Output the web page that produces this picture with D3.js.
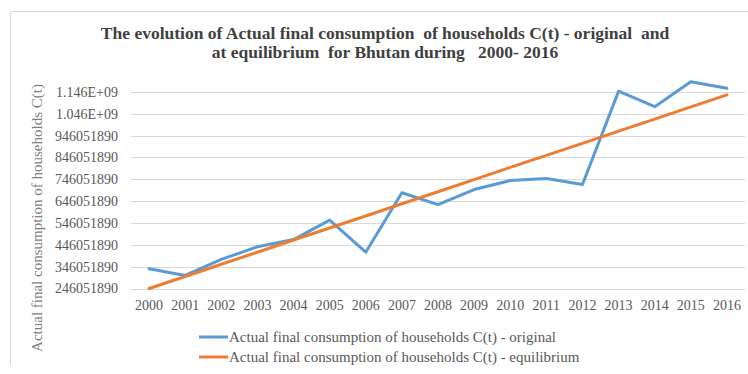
<!DOCTYPE html>
<html>
<head>
<meta charset="utf-8">
<script src="https://cdn.jsdelivr.net/npm/d3@7"></script>
<style>
  body { margin: 0; background: #fff; }
  svg { display: block; font-family: "Liberation Serif", "Times New Roman", serif; }
</style>
</head>
<body>
<svg id="chart"></svg>
<script>
/* data */
var years = ["2000","2001","2002","2003","2004","2005","2006","2007","2008",
             "2009","2010","2011","2012","2013","2014","2015","2016"];
var original = [336e6, 306e6, 379e6, 437e6, 470e6, 559e6, 412e6, 684e6, 630e6,
                699e6, 740e6, 749e6, 722e6, 1149e6, 1078e6, 1192e6, 1162e6];
var equilibrium = [246e6, 301e6, 357e6, 412e6, 468e6, 523e6, 578e6, 634e6, 689e6,
                   744e6, 800e6, 855e6, 910e6, 966e6, 1021e6, 1077e6, 1132e6];
var yTicks = [246051890, 346051890, 446051890, 546051890, 646051890,
              746051890, 846051890, 946051890, 1046051890, 1146051890];
var seriesNames = ["Actual final consumption of households C(t) - original",
                   "Actual final consumption of households C(t) - equilibrium"];
var titleLines = ["The evolution of Actual final consumption  of households C(t) - original  and",
                  "at equilibrium  for Bhutan during   2000- 2016"];
var yTitle = "Actual final consumption of households C(t)";

var width = 748, height = 374;
var colours = ["#5B9BD5", "#ED7D31"];

var svg = d3.select("#chart")
    .attr("width", width)
    .attr("height", height);

// chart frame (only top/left are visible in the crop)
svg.append("path")
    .attr("d", "M10.5,365 V11.5 H748")
    .attr("fill", "none")
    .attr("stroke", "#d9d9d9");

/* title */
svg.append("g").selectAll("text")
    .data(titleLines)
    .enter().append("text")
      .attr("x", 385)
      .attr("y", function(d, i){ return 39 + i*19; })
      .attr("text-anchor", "middle")
      .style("white-space", "pre")
      .attr("font-size", "17.5px")
      .attr("font-weight", "bold")
      .attr("fill", "#404040")
      .text(function(d){ return d; });

/* scales */
var xScale = d3.scaleBand()
    .domain(years)
    .range([131, 745])
    .padding(0);

var yScale = d3.scaleLinear()
    .domain([246051890, 1196051890])
    .range([288.5, 80.9]);

function xc(i){ return xScale(years[i]) + xScale.bandwidth()/2; }

/* gridlines */
svg.append("g").selectAll("line")
    .data(yTicks)
    .enter().append("line")
      .attr("x1", 131).attr("x2", 745)
      .attr("y1", function(d){ return Math.round(yScale(d)) + 0.5; })
      .attr("y2", function(d){ return Math.round(yScale(d)) + 0.5; })
      .attr("stroke", "#d9d9d9")
      .attr("stroke-width", 1);

/* y-axis labels */
function fmtY(v){
    return v >= 1e9 ? (v/1e9).toFixed(3) + "E+09" : String(v);
}
var yAxis = d3.axisLeft(yScale)
    .tickValues(yTicks)
    .tickSize(0)
    .tickPadding(0)
    .tickFormat(fmtY);

var yAxisG = svg.append("g")
    .attr("transform", "translate(118,0)")
    .call(yAxis);
yAxisG.select(".domain").remove();
yAxisG.selectAll("text")
    .attr("font-family", "Liberation Serif, serif")
    .attr("font-size", "14px")
    .attr("fill", "#595959");

/* x-axis labels */
var xAxis = d3.axisBottom(xScale)
    .tickSize(0)
    .tickPadding(0);

var xAxisG = svg.append("g")
    .attr("transform", "translate(0,300)")
    .call(xAxis);
xAxisG.select(".domain").remove();
xAxisG.selectAll("text")
    .attr("font-family", "Liberation Serif, serif")
    .attr("font-size", "14px")
    .attr("fill", "#595959");

/* y-axis title */
svg.append("text")
    .attr("transform", "translate(42,218) rotate(-90)")
    .attr("text-anchor", "middle")
    .attr("font-size", "15px")
    .attr("fill", "#7f7f7f")
    .text(yTitle);

/* lines */
var line = d3.line()
    .x(function(d, i){ return xc(i); })
    .y(function(d){ return yScale(d); });

[original, equilibrium].forEach(function(s, k){
    svg.append("path")
        .datum(s)
        .attr("d", line)
        .attr("fill", "none")
        .attr("stroke", colours[k])
        .attr("stroke-width", 3)
        .attr("stroke-linejoin", "round")
        .attr("stroke-linecap", "round");
});

/* legend */
var legend = svg.append("g").selectAll("g")
    .data(seriesNames)
    .enter().append("g")
      .attr("transform", function(d, i){ return "translate(199," + (337 + i*20) + ")"; });

legend.append("line")
    .attr("x1", 0).attr("x2", 29)
    .attr("stroke", function(d, i){ return colours[i]; })
    .attr("stroke-width", 3);

legend.append("text")
    .attr("x", 30)
    .attr("dy", "0.35em")
    .attr("font-size", "15px")
    .attr("fill", "#595959")
    .text(function(d){ return d; });
</script>
</body>
</html>
